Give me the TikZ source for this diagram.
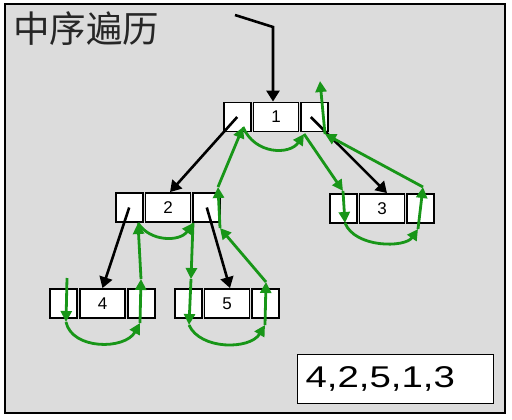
\documentclass[tikz,border=0pt]{standalone}
\usepackage{fontspec}
\usepackage{graphicx}
\setsansfont{Liberation Sans}
\newfontfamily\cjk{Noto Sans CJK SC}
\usetikzlibrary{arrows.meta,positioning}
\definecolor{panel}{RGB}{220,220,220}
\definecolor{walkgreen}{RGB}{24,150,24}

\begin{document}
\begin{tikzpicture}[x=1pt,y=-1pt,
    cell/.style={draw, line width=1.8pt, fill=white, minimum height=29pt,
      inner sep=0pt, font=\sffamily\fontsize{17}{17}\selectfont},
    side/.style={cell, minimum width=27pt},
    key/.style={cell, minimum width=45pt},
    link/.style={line width=2.6pt, -{Triangle[length=11pt,width=13pt]}},
    walk/.style={draw=walkgreen, line width=2.8pt, -{Triangle[length=11pt,width=11pt]}}]
  \useasboundingbox[fill=white] (0,0) rectangle (512,420);
  \draw[line width=2.2pt, fill=panel] (5,4) rectangle (505,413);

  \node[anchor=west, inner sep=0pt, text=black!85,
    font=\cjk\fontsize{36.5}{36.5}\selectfont] (title) at (13,29) {中序遍历};

  % tree nodes: left pointer, key, right pointer
  \node[key] (n1) at (276,117) {1};
  \node[side, left=1pt of n1] (n1l) {};
  \node[side, right=1pt of n1] (n1r) {};
  \node[key] (n2) at (168,207.5) {2};
  \node[side, left=1pt of n2] (n2l) {};
  \node[side, right=1pt of n2] (n2r) {};
  \node[key] (n3) at (382,208.5) {3};
  \node[side, left=1pt of n3] (n3l) {};
  \node[side, right=1pt of n3] (n3r) {};
  \node[key] (n4) at (102.5,303.5) {4};
  \node[side, left=1pt of n4] (n4l) {};
  \node[side, right=1pt of n4] (n4r) {};
  \node[key] (n5) at (227,303.5) {5};
  \node[side, left=1pt of n5] (n5l) {};
  \node[side, right=1pt of n5] (n5r) {};

  % result
  \node[draw, line width=1.8pt, fill=white, minimum height=49pt, inner xsep=8pt,
    text width=180pt, align=left, font=\sffamily\fontsize{30}{30}\selectfont]
    (order) at (395.5,379) {\scalebox{1.28}[1]{4,2,5,1,3}};

  % child links
  \coordinate (entry) at (235,15);
  \draw[link] (entry) -- (273,27) -- ([xshift=-3pt]n1.north);
  \draw[link] (n1l.center) -- ([xshift=2pt]n2.north);
  \draw[link] ([xshift=-4pt]n1r.center) -- ([xshift=5pt]n3.north);
  \draw[link] (n2l.center) -- (n4.north);
  \draw[link] (n2r.center) -- ([xshift=3pt]n5.north);

  % in-order walk
  \coordinate (w1) at (67,278);   \coordinate (w2) at (66,322);
  \coordinate (w3) at (140,323);  \coordinate (w4) at (141,279);
  \coordinate (w5) at (138,223);  \coordinate (w6) at (193,223);
  \coordinate (w7) at (191,279);  \coordinate (w8) at (189,325);
  \coordinate (w9) at (265,325);  \coordinate (w10) at (266,282);
  \coordinate (w11) at (220,228); \coordinate (w12) at (218,187);
  \coordinate (w13) at (243,127); \coordinate (w14) at (304,134);
  \coordinate (w15) at (343,191); \coordinate (w16) at (345,223);
  \coordinate (w17) at (418,229); \coordinate (w18) at (423,187);
  \coordinate (w19) at (325,134); \coordinate (w20) at (320,81);

  \draw[walk] (w1) -- (w2);
  \draw[walk] (w2) .. controls (72,350) and (125,350) .. (w3);
  \draw[walk] (w3) -- (w4);
  \draw[walk] (w4) -- (w5);
  \draw[walk] (w5) .. controls (150,242) and (180,242) .. (w6);
  \draw[walk] (w6) -- (w7);
  \draw[walk] (w7) -- (w8);
  \draw[walk] (w8) .. controls (200,350) and (250,350) .. (w9);
  \draw[walk] (w9) -- (w10);
  \draw[walk] (w10) -- (w11);
  \draw[walk] (w11) -- (w12);
  \draw[walk] (w12) -- (w13);
  \draw[walk] (w13) .. controls (255,155) and (290,155) .. (w14);
  \draw[walk] (w14) -- (w15);
  \draw[walk] (w15) -- (w16);
  \draw[walk] (w16) .. controls (355,248) and (405,248) .. (w17);
  \draw[walk] (w17) -- (w18);
  \draw[walk] (w18) -- (w19);
  \draw[walk] (w19) -- (w20);
\end{tikzpicture}
\end{document}
